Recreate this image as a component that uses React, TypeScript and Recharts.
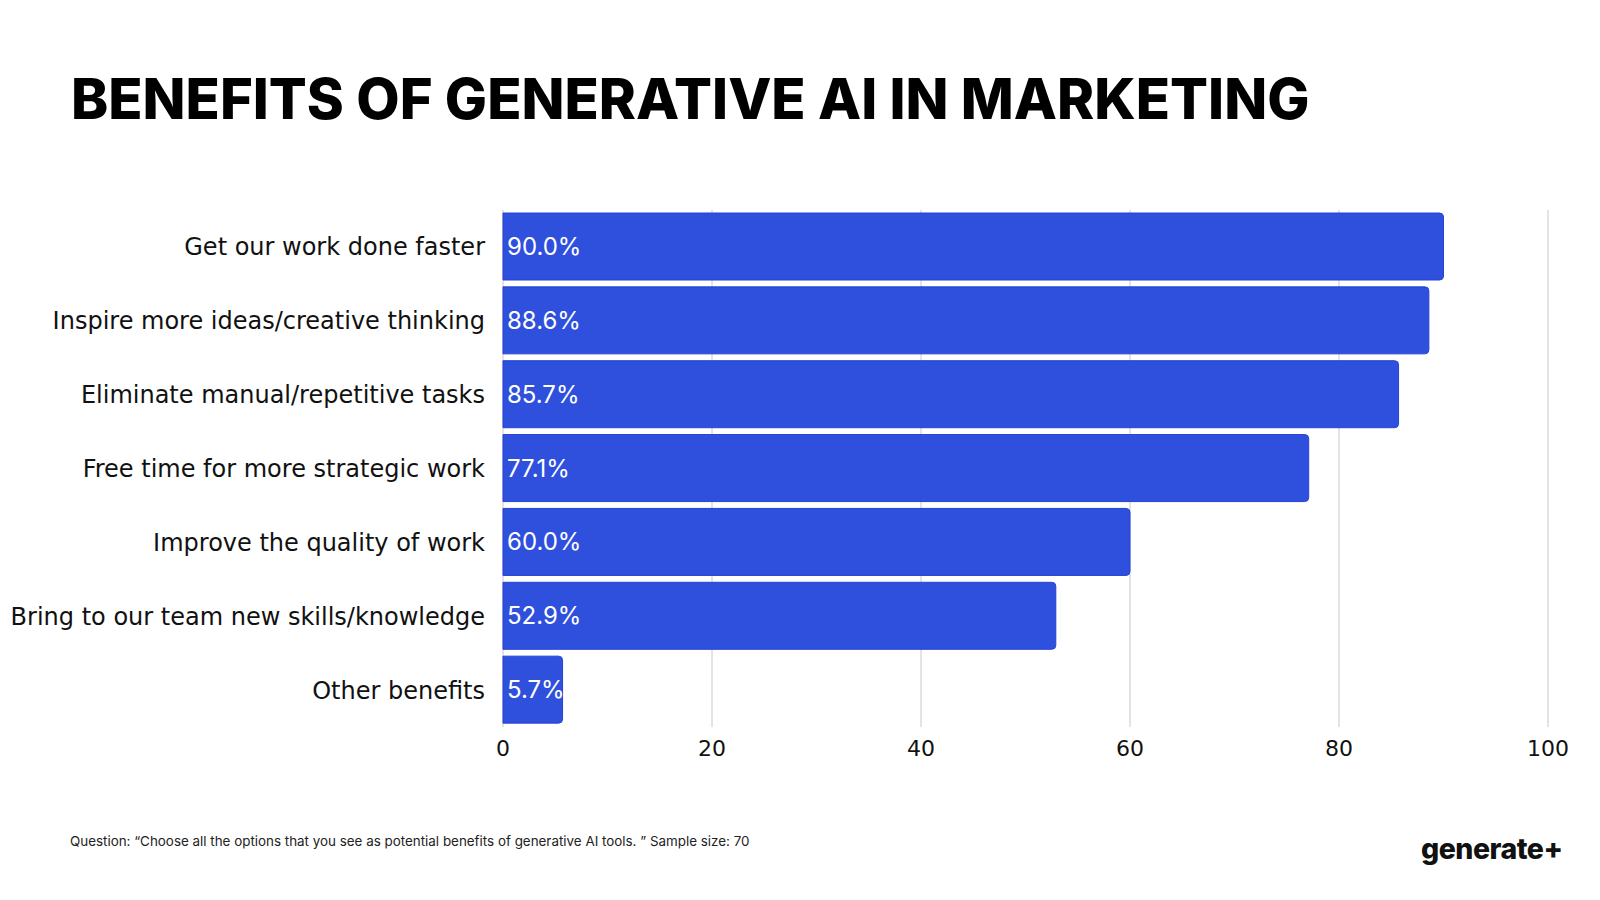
import React from 'react';
import {
  BarChart,
  Bar,
  XAxis,
  YAxis,
  CartesianGrid,
  LabelList,
} from 'recharts';

const categories = [
  'Get our work done faster',
  'Inspire more ideas/creative thinking',
  'Eliminate manual/repetitive tasks',
  'Free time for more strategic work',
  'Improve the quality of work',
  'Bring to our team new skills/knowledge',
  'Other benefits',
];
const shares = [90.0, 88.6, 85.7, 77.1, 60.0, 52.9, 5.7];
const xTicks = [0, 20, 40, 60, 80, 100];

const title = 'BENEFITS OF GENERATIVE AI IN MARKETING';
const footnote =
  'Question: \u201cChoose all the options that you see as potential benefits of generative AI tools. \u201d Sample size: 70';

const rows = categories.map((name, i) => ({ name, value: shares[i] }));

const barColor = '#2f4fdd';
const labelFont = '"DejaVu Sans", sans-serif';

const App: React.FC = () => {
  return (
    <div
      style={{
        position: 'absolute',
        left: 0,
        top: 0,
        width: 1600,
        height: 900,
        background: '#ffffff',
        overflow: 'hidden',
      }}
    >
      <div
        style={{
          position: 'absolute',
          left: 71,
          top: 65,
          fontFamily: 'Inter, sans-serif',
          fontWeight: 800,
          fontSize: 56.2,
          color: '#000',
          whiteSpace: 'nowrap',
        }}
      >
        {title}
      </div>

      <div style={{ position: 'absolute', left: 0, top: 0 }}>
        <BarChart
          width={1600}
          height={790}
          data={rows}
          layout="vertical"
          margin={{ top: 210, right: 52, left: 0, bottom: 23 }}
        >
          <CartesianGrid horizontal={false} stroke="#c8c8c8" />
          <XAxis
            type="number"
            domain={[0, 100]}
            ticks={xTicks}
            axisLine={false}
            tickLine={false}
            height={40}
            tickMargin={7}
            tick={{ fill: '#111', fontSize: 22, fontFamily: labelFont }}
          />
          <YAxis
            type="category"
            dataKey="name"
            width={503}
            axisLine={false}
            tickLine={false}
            tickMargin={12}
            tick={{ fill: '#111', fontSize: 24, fontFamily: labelFont }}
          />
          <Bar
            dataKey="value"
            fill={barColor}
            stroke="#2543d4"
            strokeWidth={1}
            barSize={67}
            radius={[0, 4, 4, 0]}
            isAnimationActive={false}
          >
            <LabelList
              dataKey="value"
              position="insideLeft"
              offset={4}
              fill="#ffffff"
              fontSize={24}
              fontFamily="Inter, sans-serif"
              formatter={(v: number) => `${Number(v).toFixed(1)}%`}
            />
          </Bar>
        </BarChart>
      </div>

      <div
        style={{
          position: 'absolute',
          left: 70,
          top: 833,
          fontFamily: 'Inter, sans-serif',
          fontSize: 13.4,
          color: '#222',
          whiteSpace: 'nowrap',
        }}
      >
        {footnote}
      </div>

      <div
        style={{
          position: 'absolute',
          left: 1421,
          top: 831,
          fontFamily: 'Inter, sans-serif',
          fontWeight: 800,
          fontSize: 28.5,
          color: '#111',
          letterSpacing: -0.5,
        }}
      >
        generate+
      </div>
    </div>
  );
};

export default App;
